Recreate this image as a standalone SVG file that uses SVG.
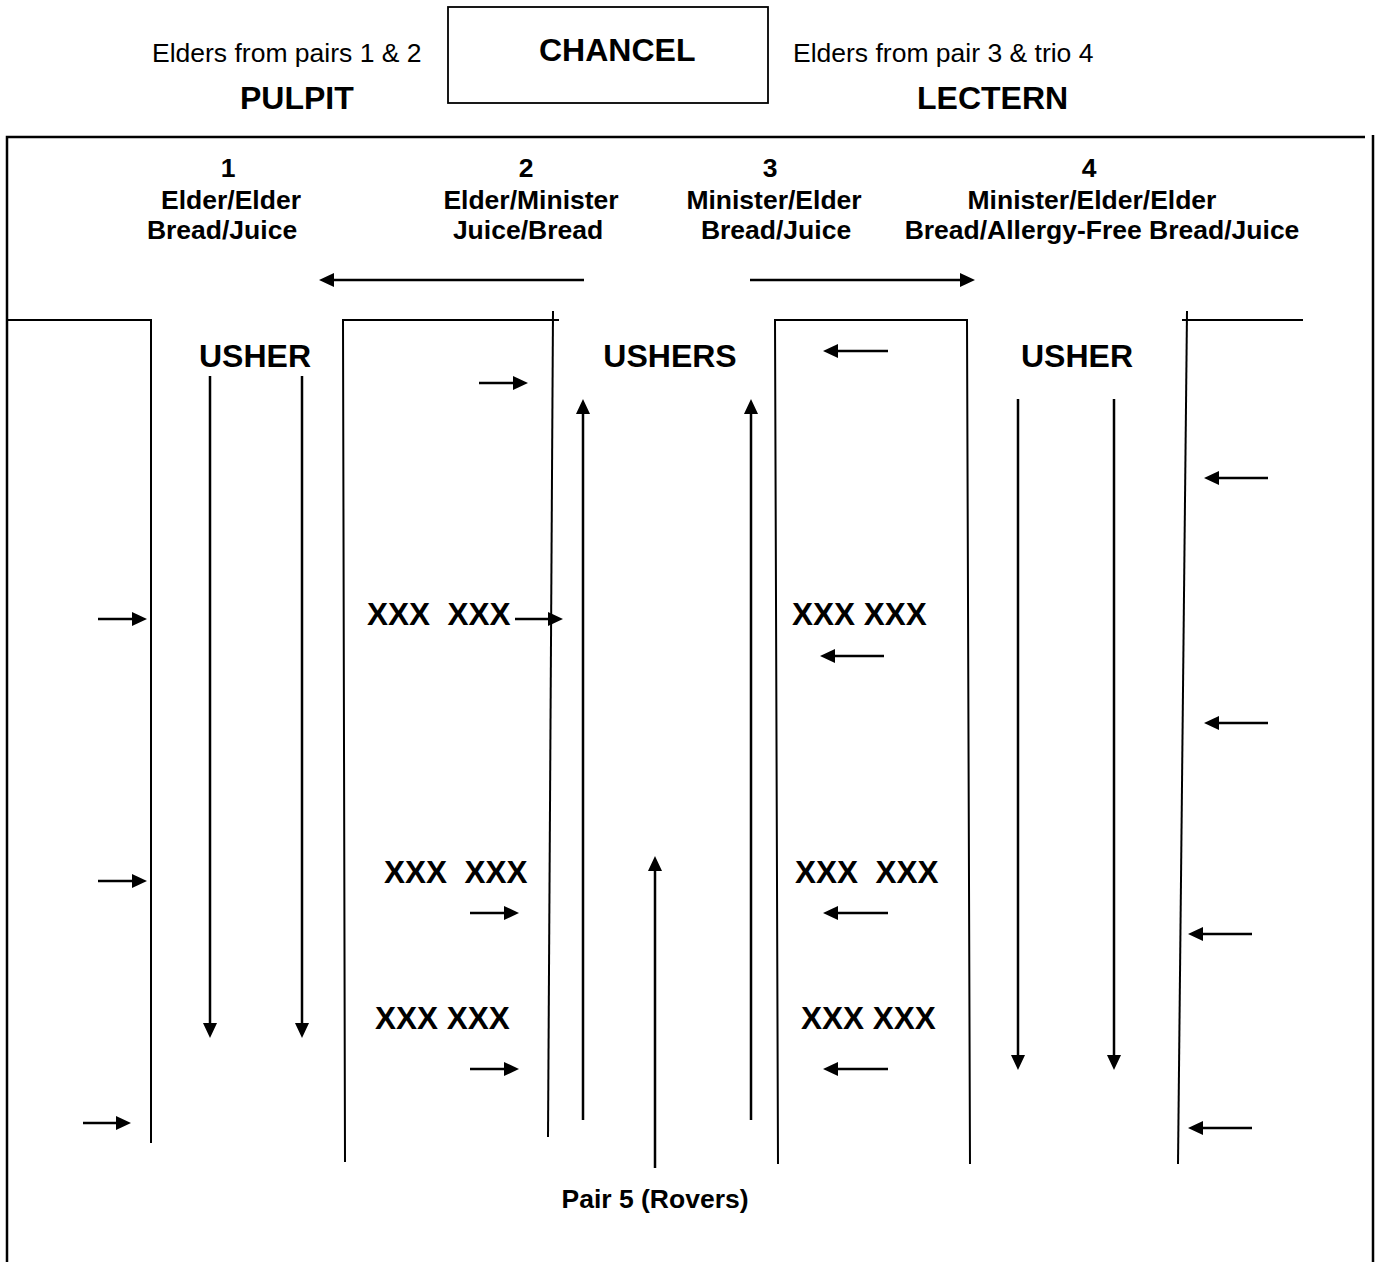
<svg xmlns="http://www.w3.org/2000/svg" width="1377" height="1262" viewBox="0 0 1377 1262">
<style>
text{font-family:"Liberation Sans",Arial,sans-serif;fill:#000}
.r{font-size:26.5px}
.b{font-weight:bold;font-size:26.5px}
.h{font-weight:bold;font-size:32px}
.x{font-weight:bold;font-size:31.5px;white-space:pre}
.m{text-anchor:middle}
.wall{fill:none;stroke:#000;stroke-width:2}
.frame{fill:none;stroke:#000;stroke-width:2.5}
.arr{fill:none;stroke:#000;stroke-width:2.5;marker-end:url(#ah)}
</style>
<defs>
<marker id="ah" markerUnits="userSpaceOnUse" viewBox="0 0 15 14" refX="5" refY="7" markerWidth="15" markerHeight="14" orient="auto">
<path d="M0,0 L15,7 L0,14 Z" fill="#000"/>
</marker>
</defs>
<rect width="1377" height="1262" fill="#fff"/>

<g id="chancel">
<rect x="448" y="7" width="320" height="96" fill="none" stroke="#000" stroke-width="1.8"/>
<text class="h" x="539" y="61">CHANCEL</text>
</g>
<g id="pulpit">
<text class="r" x="152" y="62">Elders from pairs 1 &amp; 2</text>
<text class="h" x="240" y="109">PULPIT</text>
</g>
<g id="lectern">
<text class="r" x="793" y="62">Elders from pair 3 &amp; trio 4</text>
<text class="h" x="917" y="109">LECTERN</text>
</g>

<g id="walls">
<path class="frame" d="M7,1262 V137 H1365"/>
<path class="frame" d="M1373,135 V1262"/>
<path class="wall" d="M7,320 H151 V1143"/>
<path class="wall" d="M345,1162 L343,320 H559"/>
<path class="wall" d="M553,311 L548,1137"/>
<path class="wall" d="M778,1164 L775,320 H967 L970,1164"/>
<path class="wall" d="M1182,320 H1303"/>
<path class="wall" d="M1187,311 L1178,1164"/>
</g>

<g id="pair1">
<text class="b m" x="228" y="177">1</text>
<text class="b m" x="231" y="209">Elder/Elder</text>
<text class="b m" x="222" y="239">Bread/Juice</text>
</g>
<g id="pair2">
<text class="b m" x="526" y="177">2</text>
<text class="b m" x="531" y="209">Elder/Minister</text>
<text class="b m" x="528" y="239">Juice/Bread</text>
</g>
<g id="pair3">
<text class="b m" x="770" y="177">3</text>
<text class="b m" x="774" y="209">Minister/Elder</text>
<text class="b m" x="776" y="239">Bread/Juice</text>
</g>
<g id="trio4">
<text class="b m" x="1089" y="177">4</text>
<text class="b m" x="1092" y="209">Minister/Elder/Elder</text>
<text class="b m" x="1102" y="239">Bread/Allergy-Free Bread/Juice</text>
</g>

<g id="usher1"><text class="h m" x="255" y="367">USHER</text></g>
<g id="ushers"><text class="h m" x="670" y="367">USHERS</text></g>
<g id="usher4"><text class="h m" x="1077" y="367">USHER</text></g>

<g id="seats">
<text class="x" x="367" y="625">XXX  XXX</text>
<text class="x" x="792" y="625">XXX XXX</text>
<text class="x" x="384" y="883">XXX  XXX</text>
<text class="x" x="795" y="883">XXX  XXX</text>
<text class="x" x="375" y="1029">XXX XXX</text>
<text class="x" x="801" y="1029">XXX XXX</text>
</g>

<g id="pair5"><text class="b m" x="655" y="1208">Pair 5 (Rovers)</text></g>

<g id="connectors">
<line class="arr" x1="584" y1="280" x2="329" y2="280"/>
<line class="arr" x1="750" y1="280" x2="965" y2="280"/>
<line class="arr" x1="210" y1="376" x2="210" y2="1028"/>
<line class="arr" x1="302" y1="376" x2="302" y2="1028"/>
<line class="arr" x1="1018" y1="399" x2="1018" y2="1060"/>
<line class="arr" x1="1114" y1="399" x2="1114" y2="1060"/>
<line class="arr" x1="583" y1="1120" x2="583" y2="409"/>
<line class="arr" x1="751" y1="1120" x2="751" y2="409"/>
<line class="arr" x1="655" y1="1168" x2="655" y2="866"/>
<line class="arr" x1="479" y1="383" x2="518" y2="383"/>
<line class="arr" x1="98" y1="619" x2="137" y2="619"/>
<line class="arr" x1="515" y1="619" x2="553" y2="619"/>
<line class="arr" x1="98" y1="881" x2="137" y2="881"/>
<line class="arr" x1="470" y1="913" x2="509" y2="913"/>
<line class="arr" x1="470" y1="1069" x2="509" y2="1069"/>
<line class="arr" x1="83" y1="1123" x2="121" y2="1123"/>
<line class="arr" x1="888" y1="351" x2="833" y2="351"/>
<line class="arr" x1="1268" y1="478" x2="1214" y2="478"/>
<line class="arr" x1="884" y1="656" x2="830" y2="656"/>
<line class="arr" x1="1268" y1="723" x2="1214" y2="723"/>
<line class="arr" x1="888" y1="913" x2="833" y2="913"/>
<line class="arr" x1="1252" y1="934" x2="1198" y2="934"/>
<line class="arr" x1="888" y1="1069" x2="833" y2="1069"/>
<line class="arr" x1="1252" y1="1128" x2="1198" y2="1128"/>
</g>
</svg>
